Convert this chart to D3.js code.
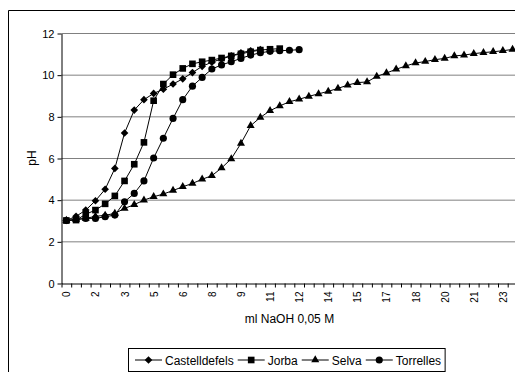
<!DOCTYPE html>
<html>
<head>
<meta charset="utf-8">
<script src="https://cdn.jsdelivr.net/npm/d3@7"></script>
<style>
  html, body { margin: 0; background: #fff; overflow: hidden; }
  svg { display: block; font-family: Arial, "Liberation Sans", sans-serif; }
</style>
</head>
<body>
<div id="chart"></div>
<script>
// ml NaOH added, one category every 0.5 ml
var ml = [0, 0.5, 1, 1.5, 2, 2.5, 3, 3.5, 4, 4.5, 5, 5.5, 6, 6.5, 7, 7.5, 8, 8.5, 9, 9.5,
          10, 10.5, 11, 11.5, 12, 12.5, 13, 13.5, 14, 14.5, 15, 15.5, 16, 16.5, 17, 17.5,
          18, 18.5, 19, 19.5, 20, 20.5, 21, 21.5, 22, 22.5, 23];

// pH readings per sample
var castelldefels = [3.0, 3.2, 3.5, 3.95, 4.5, 5.5, 7.2, 8.3, 8.8, 9.1, 9.3, 9.55, 9.8, 10.1,
                     10.4, 10.6, 10.75, 10.9, 11.05, 11.15, 11.2];
var jorba = [3.0, 3.02, 3.3, 3.5, 3.8, 4.18, 4.9, 5.7, 6.75, 8.75, 9.55, 10.0, 10.3, 10.52,
             10.62, 10.7, 10.8, 10.9, 11.0, 11.1, 11.18, 11.22, 11.25];
var selva = [3.0, 3.05, 3.1, 3.2, 3.25, 3.34, 3.58, 3.76, 3.98, 4.14, 4.27, 4.44, 4.62, 4.78,
             4.98, 5.15, 5.52, 5.96, 6.7, 7.55, 7.95, 8.27, 8.5, 8.7, 8.82, 8.96, 9.08, 9.2,
             9.34, 9.5, 9.62, 9.65, 9.92, 10.08, 10.26, 10.42, 10.56, 10.63, 10.72, 10.78,
             10.9, 10.94, 11.01, 11.06, 11.1, 11.15, 11.21];
var torrelles = [3.0, 3.05, 3.1, 3.1, 3.18, 3.26, 3.9, 4.3, 4.9, 6.0, 6.95, 7.9, 8.8, 9.45,
                 9.87, 10.27, 10.47, 10.62, 10.78, 10.94, 11.05, 11.12, 11.15, 11.17, 11.2];

var seriesNames = ["Castelldefels", "Jorba", "Selva", "Torrelles"];
var yTicks = [0, 2, 4, 6, 8, 10, 12];

// Excel style diamond (square turned 45 deg)
var diamond = {
    draw: function(ctx, size) {
        var r = Math.sqrt(size) * 0.62;
        ctx.moveTo(0, -r); ctx.lineTo(r, 0); ctx.lineTo(0, r); ctx.lineTo(-r, 0); ctx.closePath();
    }
};
var markers = [
    {type: diamond, size: 38},
    {type: d3.symbolSquare, size: 44},
    {type: d3.symbolTriangle, size: 28},
    {type: d3.symbolCircle, size: 40}
];
var allSeries = [castelldefels, jorba, selva, torrelles];

// svg is a bit wider than the window: the source chart is cut on the right
const W = 560, H = 372;
const plot = {left: 61.5, top: 33, bottom: 283, catWidth: 9.7};
plot.right = plot.left + ml.length * plot.catWidth;

var svg = d3.select("#chart").append("svg")
    .attr("width", W)
    .attr("height", H);

// chart area border, only top and left are inside the picture
svg.append("path")
    .attr("d", "M8.5," + H + "V10.5H" + W)
    .attr("fill", "none")
    .attr("stroke", "#000");

// Scales: x in ml, categories centred between ticks
var step = ml[1] - ml[0];
var x = d3.scaleLinear()
    .domain([ml[0] - step / 2, ml[ml.length - 1] + step / 2])
    .range([plot.left, plot.right]);
var y = d3.scaleLinear().domain([0, 12]).range([plot.bottom, plot.top]);

// gridlines
svg.append("g")
    .selectAll("line")
    .data(yTicks.slice(1))
    .enter().append("line")
    .attr("x1", plot.left).attr("x2", plot.right)
    .attr("y1", function(d) { return y(d) + 0.5; })
    .attr("y2", function(d) { return y(d) + 0.5; })
    .attr("stroke", "#808080");

// y axis
var yAxis = svg.append("g")
    .attr("transform", "translate(" + plot.left + ",0.5)")
    .call(d3.axisLeft(y).tickValues(yTicks).tickSize(4).tickSizeOuter(0));
yAxis.selectAll("text").style("font-size", "11px").attr("fill", "#000");
yAxis.selectAll("line, path").attr("stroke", "#000");

// x axis ticks on category boundaries
var boundaries = ml.map(function(d) { return d - step / 2; }).concat([ml[ml.length - 1] + step / 2]);
var xAxis = svg.append("g")
    .attr("transform", "translate(0," + (plot.bottom + 0.5) + ")")
    .call(d3.axisBottom(x).tickValues(boundaries).tickSize(4).tickSizeOuter(0).tickFormat(""));
xAxis.selectAll("line, path").attr("stroke", "#000");

// x labels, every third category, rounded like the source
var xLabels = ml.filter(function(d, i) { return i % 3 == 0; });
var xLab = svg.append("g")
    .attr("transform", "translate(0," + (plot.bottom + 0.5) + ")")
    .call(d3.axisBottom(x).tickValues(xLabels).tickSize(0)
        .tickFormat(function(d) { return Math.round(d); }));
xLab.select(".domain").remove();
xLab.selectAll("text")
    .style("font-size", "10px")
    .attr("fill", "#000")
    .attr("text-anchor", "end")
    .attr("transform", "rotate(-90)")
    .attr("x", -8).attr("y", 0).attr("dy", "0.35em");

// axis titles
svg.append("text")
    .attr("transform", "translate(36," + ((plot.top + plot.bottom) / 2) + ")rotate(-90)")
    .attr("text-anchor", "middle")
    .style("font-size", "12px")
    .text("pH");

svg.append("text")
    .attr("x", (plot.left + plot.right) / 2)
    .attr("y", 323)
    .attr("text-anchor", "middle")
    .style("font-size", "12px")
    .text("ml NaOH 0,05 M");

// Data lines + markers
var line = d3.line()
    .x(function(d, i) { return x(ml[i]); })
    .y(function(d) { return y(d); });

allSeries.forEach(function(vals, s) {
    var g = svg.append("g");
    g.append("path")
        .datum(vals)
        .attr("fill", "none")
        .attr("stroke", "#000")
        .attr("stroke-width", 1)
        .attr("d", line);
    g.selectAll("path.m")
        .data(vals)
        .enter().append("path")
        .attr("class", "m")
        .attr("transform", function(d, i) { return "translate(" + x(ml[i]) + "," + y(d) + ")"; })
        .attr("d", d3.symbol().type(markers[s].type).size(markers[s].size))
        .attr("fill", "#000");
});

// Legend
var legend = svg.append("g");
var box = legend.append("rect")
    .attr("y", 348.5).attr("height", 23)
    .attr("fill", "#fff").attr("stroke", "#000");
var lx = 135, ly = 360;
seriesNames.forEach(function(name, s) {
    legend.append("line")
        .attr("x1", lx).attr("x2", lx + 27)
        .attr("y1", ly).attr("y2", ly)
        .attr("stroke", "#000");
    legend.append("path")
        .attr("transform", "translate(" + (lx + 13.5) + "," + ly + ")")
        .attr("d", d3.symbol().type(markers[s].type).size(markers[s].size))
        .attr("fill", "#000");
    var t = legend.append("text")
        .attr("x", lx + 30).attr("y", ly + 4.5)
        .style("font-size", "12px")
        .text(name);
    lx = lx + 30 + t.node().getComputedTextLength() + 4;
});
box.attr("x", 128.5).attr("width", lx - 128.5);
</script>
</body>
</html>
